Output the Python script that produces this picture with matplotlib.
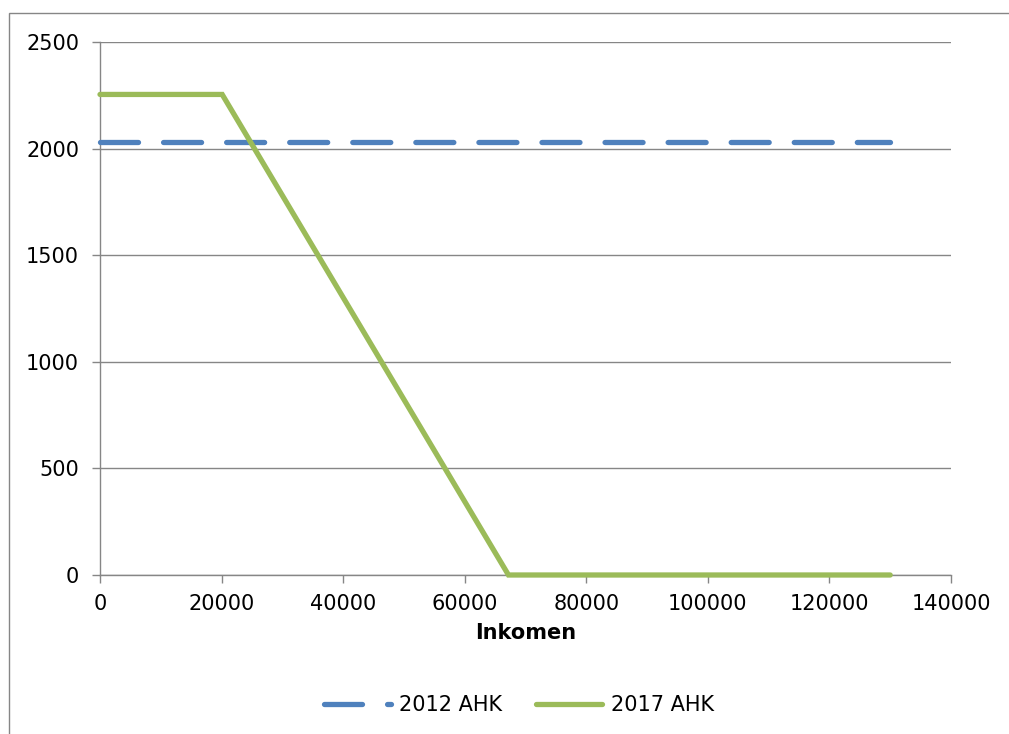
import matplotlib
matplotlib.use("Agg")
import matplotlib.pyplot as plt
from matplotlib.patches import Rectangle

# data
inkomen_2012 = [0, 130000]
ahk_2012 = [2033, 2033]
inkomen_2017 = [0, 20100, 67200, 130000]
ahk_2017 = [2254, 2254, 0, 0]

x_ticks = [0, 20000, 40000, 60000, 80000, 100000, 120000, 140000]
y_ticks = [0, 500, 1000, 1500, 2000, 2500]

blue = "#4F81BD"
green = "#9BBB59"
grey = "#868686"

plt.rcParams['font.family'] = ['DejaVu Sans']

fig = plt.figure(figsize=(10.09, 7.34), dpi=100)
ax = fig.add_axes([100/1009, 1 - 575/734, 851/1009, 533/734])

# outer chart frame (cut off at right and bottom like the original)
fig.patches.append(Rectangle((9/1009, -0.05), 1.1, 1 - 13/734 + 0.05,
                             transform=fig.transFigure, fill=False,
                             edgecolor=grey, linewidth=1))

ax.plot(inkomen_2012, ahk_2012, color=blue, linewidth=3.8,
        linestyle=(0, (7.2, 4.75)), dash_capstyle='round',
        solid_capstyle='round', label="2012 AHK", clip_on=False, zorder=3)
ax.plot(inkomen_2017, ahk_2017, color=green, linewidth=3.8,
        solid_capstyle='round', solid_joinstyle='miter',
        label="2017 AHK", clip_on=False, zorder=4)

ax.set_xlim(0, 140000)
ax.set_ylim(0, 2500)
ax.set_xticks(x_ticks)
ax.set_yticks(y_ticks)
ax.set_xticklabels([str(v) for v in x_ticks])
ax.set_yticklabels([str(v) for v in y_ticks])

ax.grid(axis='y', color=grey, linewidth=1)
ax.set_axisbelow(True)
for s in ['top', 'right']:
    ax.spines[s].set_visible(False)
for s in ['left', 'bottom']:
    ax.spines[s].set_color(grey)
    ax.spines[s].set_linewidth(1)
ax.tick_params(axis='both', colors=grey, length=6, width=1, labelsize=15,
               labelcolor='black')
ax.tick_params(axis='y', pad=9)
ax.tick_params(axis='x', pad=8)

ax.set_xlabel("Inkomen", fontsize=15, fontweight='bold', labelpad=6)

fig.legend(loc='center', bbox_to_anchor=(519/1009, 1 - 705/734), ncol=2,
           frameon=False, fontsize=15, handlelength=3.2, handletextpad=0.4,
           columnspacing=1.6)

fig.savefig("out.png", dpi=100)
